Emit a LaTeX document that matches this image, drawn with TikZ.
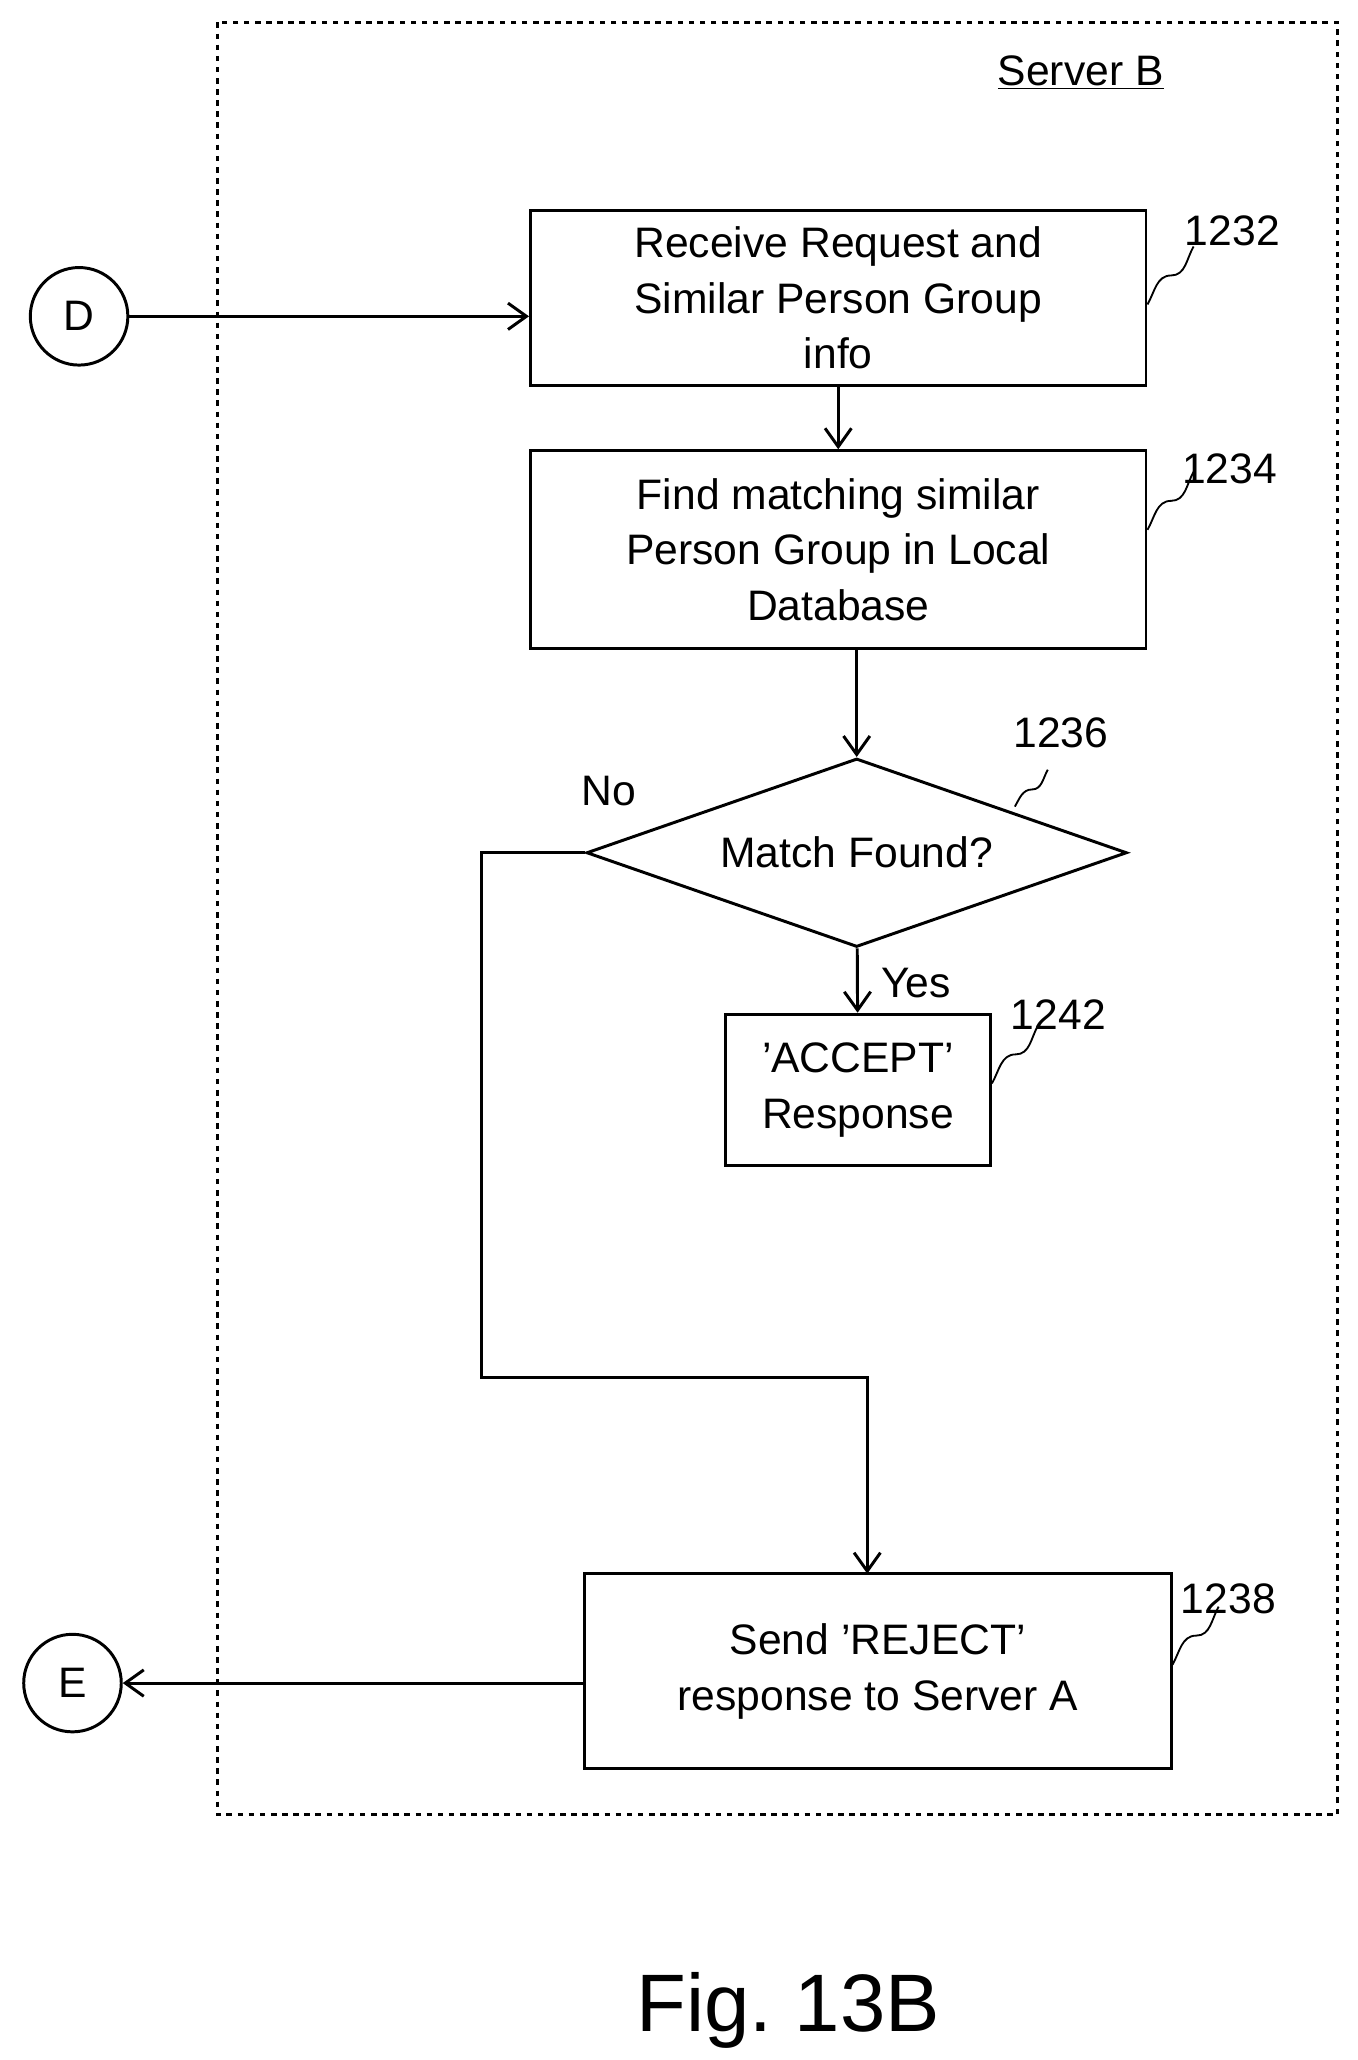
\documentclass[tikz,border=0pt]{standalone}
\usepackage{fontspec}
\setmainfont{Liberation Sans}
\usetikzlibrary{arrows.meta,shapes.geometric}
\begin{document}
\begin{tikzpicture}[x=0.025cm,y=-0.025cm,line width=1.6pt,
    every node/.style={font=\fontsize{23}{30}\selectfont}, align=center]
  \tikzset{%
  >={Straight Barb[length=3.5mm,width=5mm]},
  % Specifications for style of nodes:
       task/.style = {rectangle, draw=black, inner sep=0pt},
      check/.style = {diamond, draw=black, aspect=2.87, inner sep=0pt},
     connect/.style = {circle, draw=black, minimum size=1.85cm, inner sep=0pt},
        ref/.style = {font=\fontsize{23}{28}\selectfont},
}
  \useasboundingbox (0,0) rectangle (1030,1563);
  \draw[dashed,line width=1.5pt] (165,17) rectangle (1015,1377);
  \node (server) at (820,55) {\underline{Server B}};

  % Specification of nodes (position, etc.)
  \node (recv) [task, minimum width=467*0.025cm, minimum height=133*0.025cm] at (636,226)
     {Receive Request and\\Similar Person Group\\info};
  \node (find) [task, minimum width=467*0.025cm, minimum height=150*0.025cm] at (636,417)
     {Find matching similar\\Person Group in Local\\Database};
  \node (match) [check, minimum width=410*0.025cm, minimum height=143*0.025cm] at (650,647)
     {Match Found?};
  \node (accept) [task, minimum width=201*0.025cm, minimum height=115*0.025cm] at (651,827)
     {'ACCEPT'\\Response};
  \node (reject) [task, minimum width=445*0.025cm, minimum height=148*0.025cm] at (666,1268)
     {Send 'REJECT'\\response to Server A};
  \node (d) [connect] at (60,240) {D};
  \node (e) [connect] at (55,1277) {E};

  \node (r1232) [ref] at (935,175) {1232};
  \node (r1234) [ref] at (933,356) {1234};
  \node (r1236) [ref] at (805,556) {1236};
  \node (r1242) [ref] at (803,770) {1242};
  \node (r1238) [ref] at (932,1213) {1238};
  \node (no) at (462,600) {No};
  \node (yes) at (695,746) {Yes};
  \node (fig) [font=\fontsize{44}{50}\selectfont] at (598,1525) {Fig.\ 13B};

  % leader lines
  \draw[line width=1pt] (recv.east) ++(0,5) to[out=60,in=180] ++(18,-22) to[out=0,in=-120] ++(17,-22);
  \draw[line width=1pt] (find.east) ++(0,-15) to[out=60,in=180] ++(18,-22) to[out=0,in=-120] ++(17,-22);
  \draw[line width=1pt] (770,612) to[out=60,in=180] ++(13,-13) to[out=0,in=-120] ++(12,-15);
  \draw[line width=1pt] (accept.east) ++(0,-5) to[out=60,in=180] ++(18,-22) to[out=0,in=-120] ++(17,-22);
  \draw[line width=1pt] (reject.east) ++(0,-5) to[out=60,in=180] ++(18,-22) to[out=0,in=-120] ++(17,-22);

  % connectors
  \draw[->] (d) -- (recv.west |- d);
  \draw[->] (recv) -- (find);
  \draw[->] (find.south -| match.north) -- (match.north);
  \draw[->] (match) -- (accept);
  \draw[->] (match.west) -- (365,647) -- (365,1045) -- (658,1045) -- (658,1194);
  \draw[->] (reject.west |- e) -- (e);
\end{tikzpicture}
\end{document}
